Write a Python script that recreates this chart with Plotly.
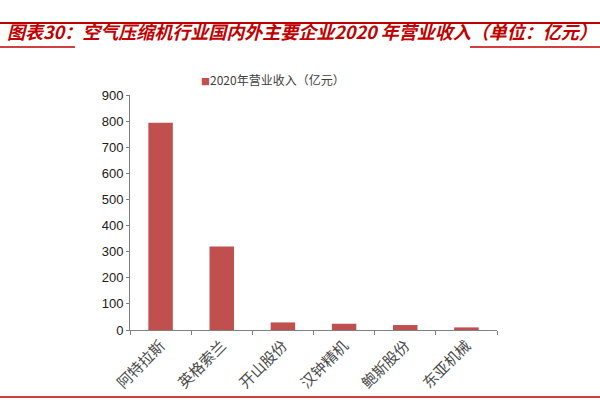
import plotly.graph_objects as go

companies = ["阿特拉斯", "英格索兰", "开山股份", "汉钟精机", "鲍斯股份", "东亚机械"]
revenue = [794, 320, 29, 24, 19, 10]
series_name = "2020年营业收入（亿元）"
title_text = "图表30：空气压缩机行业国内外主要企业2020 年营业收入（单位：亿元）"

W, H = 600, 401
L, R, T, B = 130, 103, 18, 71
PLOT_TOP = 95
pw, ph = W - L - R, H - T - B
bar_color = "#C0504D"

def px(x):
    return (x - L) / pw

def py(y):
    return (H - B - y) / ph

fig = go.Figure()
fig.add_trace(go.Bar(
    x=companies, y=revenue, name=series_name,
    marker=dict(color=bar_color, line=dict(width=0)),
    showlegend=False,
))

cjk = "Noto Sans CJK SC"
fig.update_layout(
    width=W, height=H,
    margin=dict(l=L, r=R, t=T, b=B, autoexpand=False),
    paper_bgcolor="white", plot_bgcolor="white",
    bargap=0.6,
    title=dict(
        text=title_text, xref="container", yref="container",
        x=0, y=1 - 33 / H, xanchor="left", yanchor="middle",
        pad=dict(l=7, r=0, t=0, b=0),
        font=dict(family=cjk, size=18, color="#C00000", weight="bold", style="italic"),
    ),
    xaxis=dict(
        showline=True, linecolor="#808080", linewidth=1, automargin=False,
        ticks="outside", ticklen=4, tickcolor="#808080", tickson="boundaries",
        tickangle=-45, tickfont=dict(family=cjk, size=15, color="#4a4a4a"),
        showgrid=False,
    ),
    yaxis=dict(
        domain=[0, py(PLOT_TOP)],
        range=[0, 900], dtick=100, showline=True, linecolor="#808080", linewidth=1,
        automargin=False,
        ticks="outside", ticklen=3, tickcolor="#808080",
        tickfont=dict(family="Liberation Sans", size=13, color="#202020"),
        showgrid=False, zeroline=False,
    ),
    annotations=[
        dict(xref="paper", yref="paper", x=px(199), y=py(80), xanchor="left", yanchor="middle",
             showarrow=False,
             text="<span style='color:%s;font-size:9px'>■</span>%s" % (bar_color, series_name),
             font=dict(family=cjk, size=12, color="#404040")),
    ],
    shapes=[
        dict(type="line", xref="paper", yref="paper", x0=px(0), x1=px(W), y0=py(23), y1=py(23),
             line=dict(color="#C00000", width=2)),
        dict(type="line", xref="paper", yref="paper", x0=px(0), x1=px(75), y0=py(47), y1=py(47),
             line=dict(color="#C00000", width=1.5)),
        dict(type="line", xref="paper", yref="paper", x0=px(470), x1=px(W), y0=py(47), y1=py(47),
             line=dict(color="#C00000", width=1.5)),
        dict(type="line", xref="paper", yref="paper", x0=px(0), x1=px(W), y0=py(397), y1=py(397),
             line=dict(color="#C00000", width=1.5)),
    ],
)

fig.write_html("out.html", config={"displayModeBar": False},
               post_script="document.body.style.margin='0';")
